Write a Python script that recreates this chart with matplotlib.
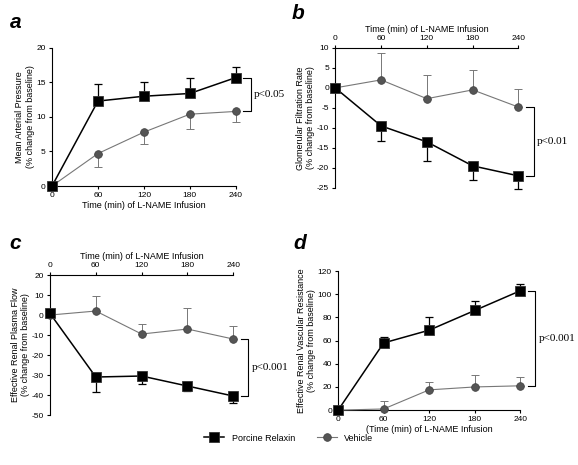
import numpy as np
import matplotlib
matplotlib.use('Agg')
import matplotlib.pyplot as plt

plt.rcParams['font.family'] = ['Liberation Sans', 'DejaVu Sans']
plt.rcParams['axes.unicode_minus'] = False

time = [0, 60, 120, 180, 240]

# panel a - mean arterial pressure
map_rlx = [0, 12.3, 13.0, 13.4, 15.7]
map_rlx_err = [0, 2.5, 2.0, 2.3, 1.5]
map_veh = [0, 4.7, 7.8, 10.4, 10.8]
map_veh_err = [0, 2.0, 1.7, 2.2, 1.5]

# panel b - glomerular filtration rate
gfr_rlx = [0, -9.5, -13.5, -19.5, -22.0]
gfr_rlx_err = [0, 3.9, 4.7, 3.5, 3.3]
gfr_veh = [0, 2.0, -2.7, -0.5, -4.8]
gfr_veh_err = [0, 6.8, 5.8, 4.9, 4.5]

# panel c - effective renal plasma flow
erpf_rlx = [0.8, -31.0, -30.5, -35.5, -40.5]
erpf_rlx_err = [0, 7.3, 4.2, 2.5, 3.5]
erpf_veh = [0, 2.0, -9.5, -7.0, -12.0]
erpf_veh_err = [0, 7.7, 4.8, 10.7, 6.5]

# panel d - effective renal vascular resistance
ervr_rlx = [0, 58, 69, 86, 103]
ervr_rlx_err = [0, 5, 11, 8, 6]
ervr_veh = [0, 1, 17.5, 20, 21]
ervr_veh_err = [0, 6.5, 7, 10.5, 7.5]

RLX = 'black'
VEH = '#555555'


def draw(ax, rlx, rlx_err, rlx_up, veh, veh_err, veh_up):
    z = np.zeros(len(time))
    e = [z, rlx_err] if rlx_up else [rlx_err, z]
    ax.errorbar(time, rlx, yerr=e, fmt='none', ecolor=RLX, elinewidth=0.9,
                capsize=3, capthick=0.9, zorder=1, clip_on=False)
    e = [z, veh_err] if veh_up else [veh_err, z]
    ax.errorbar(time, veh, yerr=e, fmt='none', ecolor='#777777', elinewidth=0.7,
                capsize=3, capthick=0.7, zorder=1, clip_on=False)
    ax.plot(time, veh, '-o', color='#777777', lw=0.8, ms=5.5, mfc=VEH, mec='#444444',
            mew=0.6, zorder=3, clip_on=False, label='Vehicle')
    ax.plot(time, rlx, '-s', color=RLX, lw=1.1, ms=7, mfc='black', mec='#333333',
            mew=0.6, zorder=4, clip_on=False, label='Porcine Relaxin')


def bracket(ax, y1, y2, txt):
    ax.plot([250, 260, 260, 250], [y1, y1, y2, y2], color='black', lw=0.8, clip_on=False)
    ax.text(264, (y1 + y2) / 2, txt, family='Liberation Serif', fontsize=8,
            va='center', ha='left')


def style(ax, top):
    ax.set_xlim(0, 240)
    ax.set_xticks(time)
    ax.tick_params(labelsize=6, length=2.5, width=0.8, pad=2)
    for s in ax.spines.values():
        s.set_linewidth(0.8)
    ax.spines['right'].set_visible(False)
    if top:
        ax.spines['bottom'].set_visible(False)
        ax.xaxis.tick_top()
        ax.xaxis.set_label_position('top')
    else:
        ax.spines['top'].set_visible(False)


fig = plt.figure(figsize=(5.78, 4.65), dpi=100)

ax = fig.add_axes([0.090, 0.600, 0.318, 0.297])
draw(ax, map_rlx, map_rlx_err, True, map_veh, map_veh_err, False)
style(ax, False)
ax.set_ylim(0, 20)
ax.set_yticks([0, 5, 10, 15, 20])
ax.set_xlabel('Time (min) of L-NAME Infusion', fontsize=6.5, labelpad=1)
ax.set_ylabel('Mean Arterial Pressure\n(% change from baseline)', fontsize=6.5, labelpad=1)
bracket(ax, map_rlx[-1], map_veh[-1], 'p<0.05')

ax = fig.add_axes([0.580, 0.596, 0.317, 0.301])
draw(ax, gfr_rlx, gfr_rlx_err, False, gfr_veh, gfr_veh_err, True)
style(ax, True)
ax.set_ylim(-25, 10)
ax.set_yticks([-25, -20, -15, -10, -5, 0, 5, 10])
ax.set_xlabel('Time (min) of L-NAME Infusion', fontsize=6.5, labelpad=2)
ax.set_ylabel('Glomerular Filtration Rate\n(% change from baseline)', fontsize=6.5, labelpad=1)
bracket(ax, gfr_veh[-1], gfr_rlx[-1], 'p<0.01')

ax = fig.add_axes([0.0865, 0.1075, 0.317, 0.301])
draw(ax, erpf_rlx, erpf_rlx_err, False, erpf_veh, erpf_veh_err, True)
style(ax, True)
ax.set_ylim(-50, 20)
ax.set_yticks([-50, -40, -30, -20, -10, 0, 10, 20])
ax.set_xlabel('Time (min) of L-NAME Infusion', fontsize=6.5, labelpad=2)
ax.set_ylabel('Effective Renal Plasma Flow\n(% change from baseline)', fontsize=6.5, labelpad=1)
bracket(ax, erpf_veh[-1], erpf_rlx[-1], 'p<0.001')

ax = fig.add_axes([0.585, 0.118, 0.315, 0.299])
draw(ax, ervr_rlx, ervr_rlx_err, True, ervr_veh, ervr_veh_err, True)
style(ax, False)
ax.set_ylim(0, 120)
ax.set_yticks([0, 20, 40, 60, 80, 100, 120])
ax.set_xlabel('(Time (min) of L-NAME Infusion', fontsize=6.5, labelpad=1)
ax.set_ylabel('Effective Renal Vascular Resistance\n(% change from baseline)', fontsize=6.5, labelpad=1)
bracket(ax, ervr_rlx[-1], ervr_veh[-1], 'p<0.001')

handles, labels = ax.get_legend_handles_labels()
fig.legend(handles[::-1], labels[::-1], loc='center', bbox_to_anchor=(0.5, 0.058),
           ncol=2, frameon=False, fontsize=6.5, columnspacing=2.5, handlelength=2.2)

for x, y, t in [(0.017, 0.94, 'a'), (0.505, 0.96, 'b'), (0.017, 0.465, 'c'), (0.507, 0.465, 'd')]:
    fig.text(x, y, t, fontsize=15, fontweight='bold', fontstyle='italic', va='baseline')

fig.savefig('out.png', dpi=100)
